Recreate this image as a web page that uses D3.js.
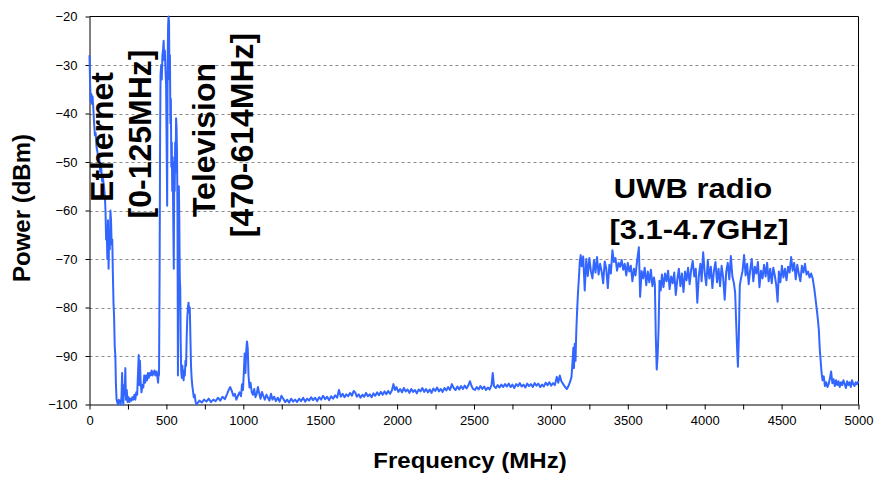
<!DOCTYPE html>
<html>
<head>
<meta charset="utf-8">
<script src="https://cdn.jsdelivr.net/npm/d3@7"></script>
<style>
  html, body { margin: 0; padding: 0; background: #fff; }
  svg { display: block; font-family: "Liberation Sans", Arial, sans-serif; }
</style>
</head>
<body>
<svg id="chart" width="877" height="480"></svg>
<script>
// ---- data ----
const xTicks = [0, 500, 1000, 1500, 2000, 2500, 3000, 3500, 4000, 4500, 5000];
const xMinorTicks = [250, 750, 1250, 1750, 2250, 2750, 3250, 3750, 4250, 4750];
const yTicks = [-100, -90, -80, -70, -60, -50, -40, -30, -20];
const gridTicks = [-90, -80, -70, -60, -50, -40, -30];

const xTitle = "Frequency (MHz)";
const yTitle = "Power (dBm)";
const bandLabels = [
  { lines: ["Ethernet", "[0-125MHz]"] },
  { lines: ["Television", "[470-614MHz]"] },
  { lines: ["UWB radio", "[3.1-4.7GHz]"] }
];

const freqMHz = [
  0,4,8,12,16,20,25,30,35,40,46,52,58,64,70,76,82,88,94,100,104,108,112,116,120,124,128,132,136,140,144,148,152,156,160,164,168,172,176,180,
  185,190,196,202,208,212,216,220,224,228,233,237,242,248,254,260,266,272,278,285,292,298,304,310,316,320,324,328,332,338,344,350,356,362,368,374,380,386,392,398,404,410,416,422,428,434,440,446,450,
  452,456,459,462,466,470,474,478,482,486,490,494,498,502,505,508,511,514,517,520,523,526,529,532,535,538,541,544,548,551,554,557,560,563,566,569,572,575,578,581,584,587,590,593,596,600,604,608,612,616,620,624,628,632,636,640,644,648,652,656,660,664,668,672,678,684,690,696,
  700,715,730,745,760,775,790,805,820,835,850,865,880,895,905,915,925,935,945,955,965,975,985,992,998,1004,1009,1014,1019,1024,1029,1034,1040,1047,1055,1063,1071,1079,1087,1095,1103,1112,1121,1130,1140,1150,1160,1170,1180,1190,1200,
  1212,1224,1236,1248,1260,1272,1285,1298,1311,1324,1337,1350,1363,1376,1389,1402,1415,1428,1441,1454,1467,1480,1493,1506,1519,1532,1545,1558,1571,1584,1597,1610,
  1622,1634,1646,1658,1670,1682,1694,1706,1718,1728,1738,1750,1762,1774,1786,1798,1810,1822,1834,1846,1858,1870,1882,1894,1906,1918,1930,1942,1954,1966,1976,1986,1996,
  2008,2020,2032,2044,2056,2068,2080,2092,2104,2116,2128,2140,2152,2164,2176,2188,2200,2212,2224,2236,2248,2260,2272,2284,2296,2308,2320,2332,2344,2356,2368,2380,2392,2404,2416,2428,2440,2452,2464,2474,2484,2494,
  2506,2518,2530,2542,2554,2566,2578,2590,2602,2614,2622,2630,2642,2654,2666,2678,2690,2702,2714,2726,2738,2750,2762,2774,2786,2798,2810,2822,2834,2846,2858,2870,2882,2894,2906,2918,2930,2942,2954,2966,2978,2990,
  3002,3014,3026,3038,3048,3058,3068,3080,3092,3104,3114,3124,3134,3140,3146,3150,3155,3160,3165,3170,3176,3182,3188,3194,
  3200,3210,3220,3230,3240,3250,3260,3270,3280,3290,3300,3310,3320,3330,3340,3350,3360,3370,3380,3390,3400,3410,3420,3430,3440,3450,3460,3470,3480,3490,3500,3510,3520,3530,3540,3550,3560,3572,3580,3590,3600,3610,3620,3630,3640,3650,3660,3670,3676,3682,3688,3694,3700,3706,
  3714,3722,3732,3742,3752,3762,3772,3782,3792,3802,3812,3822,3832,3842,3852,3862,3872,3882,3892,3902,3912,3922,3932,3942,3952,3962,3972,3980,3990,4000,4010,4020,4030,4040,4050,4060,4070,4080,4090,4100,4110,4120,4130,4140,4150,4160,4170,4180,4190,4198,4204,4210,4216,4222,4228,
  4236,4246,4256,4266,4276,4286,4296,4306,4316,4326,4336,4346,4356,4366,4376,4386,4396,4406,4416,4426,4436,4446,4456,4466,4474,4482,4492,4502,4512,4522,4532,4542,4552,4562,4572,4582,4592,4602,4612,4622,4632,4642,4652,4662,4672,4682,4692,4702,4712,4720,4729,4736,4742,4748,4754,4760,4766,
  4774,4782,4790,4798,4806,4814,4822,4830,4838,4846,4854,4862,4870,4878,4886,4894,4902,4910,4918,4926,4934,4942,4950,4958,4966,4974,4982,4990,5000
];

const powerDbm = [
  -28,-34,-37.5,-36,-38,-36.5,-39,-42,-44.5,-44,-47,-48,-50,-49.5,-52,-51,-54,-53.5,-55,-57,-60,-66,-64,-70,-62,-72,-65,-68,-60,-62,-67,-66,-73,-79,-82,-88,-90,-96,-99,-99.5,
  -100,-99,-99.5,-100,-98.5,-93.5,-99,-100,-96,-98,-92.5,-99,-97,-99.5,-98.5,-99.5,-98.8,-99.2,-98.5,-99,-98,-99,-97.5,-98,-93,-89.8,-96,-91,-95,-97.5,-96,-96.5,-94,-95.5,-94,-95,-93.5,-94.5,-93.5,-94,-93,-94,-93.5,-93,-94,-93.2,-94,-95.5,-93,
  -94,-72,-45,-32,-30,-33,-28,-27,-25,-29,-27,-31,-34,-48,-59,-30,-22,-20,-21,-33,-28,-42,-37,-51,-46,-56,-49,-60,-72,-50,-56,-46,-52,-41,-43,-48,-60,-94,-78,-55,-62,-74,-76,-87,-93,-94.5,-92,-94,-95,-93,-94,-91,-92,-86,-82,-80,-79,-81,-80,-86,-92,-94.5,-96,-97,-98.5,-98,-99.5,-100,
  -99.8,-99.2,-99.6,-99.0,-99.4,-98.8,-99.5,-99.0,-99.3,-98.6,-99.2,-98.4,-98.9,-97.8,-97.0,-96.4,-97.2,-98.2,-97.8,-99.0,-98.2,-97.5,-98.3,-95.8,-97.0,-93.0,-89.5,-93.5,-89.0,-87.0,-88.5,-94.0,-96.5,-95.5,-97.5,-98.0,-96.8,-98.5,-97.8,-96.4,-97.6,-98.8,-97.4,-98.2,-99.0,-98.0,-98.6,-99.2,-97.8,-99.0,-98.4,
  -99.3,-98.6,-99.4,-98.2,-98.8,-99.5,-99.0,-99.6,-98.8,-99.4,-99.0,-99.5,-98.8,-99.3,-98.6,-99.4,-98.8,-99.2,-98.5,-99.1,-98.6,-99.3,-98.5,-99.0,-98.2,-98.9,-98.4,-99.1,-98.3,-98.8,-98.1,-98.6,
  -97.0,-98.4,-97.8,-98.5,-97.9,-98.3,-97.6,-98.2,-97.2,-97.5,-98.4,-97.9,-98.6,-98.0,-98.4,-97.6,-98.3,-97.9,-98.5,-97.7,-98.2,-97.5,-98.1,-97.4,-98.0,-97.3,-97.9,-97.2,-97.8,-97.1,-95.8,-97.0,-96.4,
  -97.4,-96.8,-97.5,-96.6,-97.3,-96.9,-97.6,-96.8,-97.4,-97.0,-97.7,-96.9,-97.3,-96.6,-97.4,-96.8,-97.5,-96.9,-97.6,-96.7,-97.2,-96.5,-97.3,-96.8,-97.4,-96.6,-97.1,-96.4,-97.0,-95.8,-96.6,-97.0,-96.3,-96.9,-96.2,-96.8,-96.1,-96.7,-96.0,-95.2,-96.2,-96.8,
  -97.0,-96.4,-96.9,-96.2,-96.8,-96.3,-97.0,-96.5,-96.9,-96.0,-93.5,-96.2,-96.6,-96.0,-96.5,-95.9,-96.4,-95.8,-96.3,-95.7,-96.4,-95.9,-96.6,-95.8,-96.2,-95.6,-96.3,-95.9,-96.5,-95.7,-96.2,-95.8,-96.4,-95.6,-96.1,-95.7,-96.4,-95.9,-96.3,-95.5,-96.0,-95.4,
  -96.1,-95.6,-96.0,-94.3,-95.5,-94.0,-95.2,-95.8,-96.4,-96.8,-96.2,-95.4,-94.3,-91.5,-88.3,-92.5,-87.5,-91.0,-85.0,-81.0,-77.0,-74.0,-70.5,-69.2,
  -71.5,-69.5,-76.5,-70.0,-73.5,-69.8,-72.5,-74.0,-70.2,-72.8,-69.6,-73.2,-71.0,-72.6,-75.0,-70.5,-72.0,-76.0,-71.2,-73.0,-68.2,-70.6,-69.8,-72.4,-70.8,-71.6,-70.2,-72.2,-71.0,-73.4,-70.8,-72.6,-71.4,-74.6,-72.0,-73.4,-70.5,-67.6,-77.8,-72.5,-74.0,-71.8,-75.4,-72.6,-74.8,-72.2,-75.6,-73.8,-75.2,-86.0,-92.8,-90.0,-84.5,-74.5,
  -76.5,-73.2,-75.8,-73.0,-74.6,-72.4,-76.2,-73.6,-75.0,-72.8,-77.4,-74.2,-72.0,-75.6,-73.0,-76.8,-72.6,-74.4,-71.8,-75.2,-72.2,-70.4,-73.6,-72.0,-79.0,-73.4,-71.0,-74.6,-68.6,-72.8,-75.4,-70.2,-74.0,-71.6,-76.0,-72.4,-70.6,-74.8,-72.0,-75.6,-71.4,-73.8,-78.4,-72.6,-70.8,-74.2,-69.4,-73.6,-75.0,-77.0,-82.5,-88.0,-92.2,-86.0,-75.5,
  -74.0,-72.5,-69.2,-73.4,-71.0,-75.2,-72.2,-70.0,-74.6,-71.6,-73.0,-70.6,-75.8,-72.4,-74.0,-71.2,-73.6,-70.8,-74.6,-72.0,-75.0,-71.8,-73.4,-75.6,-78.8,-72.6,-74.8,-71.4,-73.8,-72.0,-74.4,-71.6,-72.8,-69.6,-72.4,-70.8,-74.2,-71.2,-73.0,-74.6,-71.4,-72.8,-71.0,-73.2,-72.6,-73.8,-73.0,-74.0,-76.0,-78.0,-80.5,-82.5,-84.6,-88.5,-91.0,-93.5,-95.0,
  -94.2,-96.2,-95.4,-96.4,-95.8,-94.6,-93.2,-95.6,-94.8,-96.2,-95.0,-96.0,-95.2,-96.4,-95.4,-96.0,-95.0,-95.8,-96.6,-95.2,-96.0,-95.4,-96.4,-95.0,-95.8,-96.2,-95.4,-95.8,-95.2
];

(function () {
const svg = d3.select("#chart");
const pl = 89.5, pr = 858.5, pt = 16.5, pb = 404.5;

const x = d3.scaleLinear().domain([0, 5000]).range([pl, pr]);
const y = d3.scaleLinear().domain([-100, -20]).range([pb, pt]);

// gridlines
svg.append("g").selectAll("line").data(gridTicks).join("line")
  .attr("x1", pl).attr("x2", pr)
  .attr("y1", d => Math.round(y(d)) + 0.5).attr("y2", d => Math.round(y(d)) + 0.5)
  .attr("stroke", "#8c8c8c").attr("stroke-width", 1).attr("stroke-dasharray", "3,3");

// frame (top and right)
svg.append("line").attr("x1", pl).attr("x2", pr).attr("y1", pt).attr("y2", pt)
  .attr("stroke", "#000");
svg.append("line").attr("x1", pr).attr("x2", pr).attr("y1", pt).attr("y2", pb)
  .attr("stroke", "#000");

// x axis
const xAxis = d3.axisBottom(x).tickValues(xTicks).tickSize(5).tickSizeOuter(0).tickPadding(6)
  .tickFormat(d3.format("d"));
const gx = svg.append("g").attr("transform", `translate(0,${pb})`).call(xAxis);
gx.selectAll("text").attr("font-size", 13).attr("fill", "#000").attr("font-family", "Liberation Sans, Arial, sans-serif");
gx.select(".domain").attr("stroke", "#000");
gx.selectAll(".tick line").attr("stroke", "#000");
const gxm = svg.append("g").attr("transform", `translate(0,${pb})`)
  .call(d3.axisBottom(x).tickValues(xMinorTicks).tickSize(5).tickFormat(""));
gxm.select(".domain").remove();
gxm.selectAll(".tick line").attr("stroke", "#000");

// y axis
const yAxis = d3.axisLeft(y).tickValues(yTicks).tickSize(4).tickSizeOuter(0).tickPadding(8)
  .tickFormat(d3.format("d"));
const gy = svg.append("g").attr("transform", `translate(${pl},0)`).call(yAxis);
gy.selectAll("text").attr("font-size", 13).attr("fill", "#000").attr("font-family", "Liberation Sans, Arial, sans-serif");
gy.select(".domain").attr("stroke", "#000");
gy.selectAll(".tick line").attr("stroke", "#000");

// spectrum line
const pts = freqMHz.map((f, i) => [f, powerDbm[i]]);
svg.append("path")
  .datum(pts)
  .attr("fill", "none")
  .attr("stroke", "#3366ff")
  .attr("stroke-width", 2)
  .attr("stroke-linejoin", "round")
  .attr("d", d3.line().x(d => x(d[0])).y(d => y(d[1])));

// axis titles
svg.append("text")
  .attr("transform", "translate(470,468) scale(1,0.9)")
  .attr("text-anchor", "middle").attr("font-weight", "bold").attr("font-size", 24)
  .text(xTitle);
svg.append("text")
  .attr("transform", "translate(30,208) rotate(-90)")
  .attr("text-anchor", "middle").attr("font-weight", "bold").attr("font-size", 24)
  .text(yTitle);

// band annotations (rotated)
const rot = [
  { t: bandLabels[0].lines[0], x: 113, y: 137 },
  { t: bandLabels[0].lines[1], x: 151, y: 134 },
  { t: bandLabels[1].lines[0], x: 215, y: 140 },
  { t: bandLabels[1].lines[1], x: 253, y: 135 }
];
svg.append("g").selectAll("text").data(rot).join("text")
  .attr("transform", d => `translate(${d.x},${d.y}) rotate(-90)`)
  .attr("text-anchor", "middle").attr("font-weight", "bold").attr("font-size", 32)
  .text(d => d.t);

// UWB (horizontal)
svg.append("text")
  .attr("transform", "translate(693,198) scale(1,0.88)")
  .attr("text-anchor", "middle").attr("font-weight", "bold").attr("font-size", 31)
  .text(bandLabels[2].lines[0]);
svg.append("text")
  .attr("transform", "translate(699,239) scale(1,0.88)")
  .attr("text-anchor", "middle").attr("font-weight", "bold").attr("font-size", 31)
  .text(bandLabels[2].lines[1]);
})();
</script>
</body>
</html>
